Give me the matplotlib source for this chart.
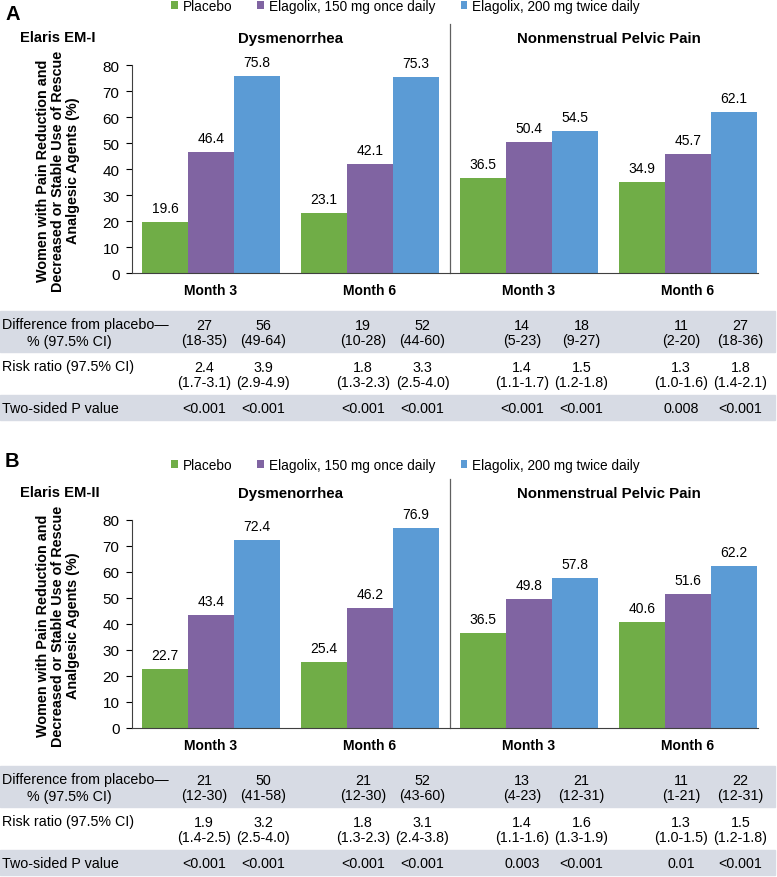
import matplotlib
matplotlib.use("Agg")
from matplotlib import pyplot as plt
from matplotlib.patches import Rectangle
from matplotlib import transforms

plt.rcParams['font.family'] = ['Liberation Sans', 'DejaVu Sans']

W, H = 777, 878

series_names = ['Placebo', 'Elagolix, 150 mg once daily', 'Elagolix, 200 mg twice daily']
colors = ['#70AD47', '#8064A2', '#5B9BD5']
groups = ['Month 3', 'Month 6', 'Month 3', 'Month 6']
sections = ['Dysmenorrhea', 'Nonmenstrual Pelvic Pain']

# panel A: Elaris EM-I
a_placebo = [19.6, 23.1, 36.5, 34.9]
a_e150 = [46.4, 42.1, 50.4, 45.7]
a_e200 = [75.8, 75.3, 54.5, 62.1]
a_diff150 = ['27\n(18-35)', '19\n(10-28)', '14\n(5-23)', '11\n(2-20)']
a_diff200 = ['56\n(49-64)', '52\n(44-60)', '18\n(9-27)', '27\n(18-36)']
a_rr150 = ['2.4\n(1.7-3.1)', '1.8\n(1.3-2.3)', '1.4\n(1.1-1.7)', '1.3\n(1.0-1.6)']
a_rr200 = ['3.9\n(2.9-4.9)', '3.3\n(2.5-4.0)', '1.5\n(1.2-1.8)', '1.8\n(1.4-2.1)']
a_p150 = ['<0.001', '<0.001', '<0.001', '0.008']
a_p200 = ['<0.001', '<0.001', '<0.001', '<0.001']

# panel B: Elaris EM-II
b_placebo = [22.7, 25.4, 36.5, 40.6]
b_e150 = [43.4, 46.2, 49.8, 51.6]
b_e200 = [72.4, 76.9, 57.8, 62.2]
b_diff150 = ['21\n(12-30)', '21\n(12-30)', '13\n(4-23)', '11\n(1-21)']
b_diff200 = ['50\n(41-58)', '52\n(43-60)', '21\n(12-31)', '22\n(12-31)']
b_rr150 = ['1.9\n(1.4-2.5)', '1.8\n(1.3-2.3)', '1.4\n(1.1-1.6)', '1.3\n(1.0-1.5)']
b_rr200 = ['3.2\n(2.5-4.0)', '3.1\n(2.4-3.8)', '1.6\n(1.3-1.9)', '1.5\n(1.2-1.8)']
b_p150 = ['<0.001', '<0.001', '0.003', '0.01']
b_p200 = ['<0.001', '<0.001', '<0.001', '<0.001']

ylabel = 'Women with Pain Reduction and\nDecreased or Stable Use of Rescue\nAnalgesic Agents (%)'

fig = plt.figure(figsize=(W / 100, H / 100), dpi=100)


def fy(py):
    return 1 - py / H


def fx(px):
    return px / W


def panel(letter, study, vals, table, off, letter_y, legend_y):
    axtop, axbot = 66 + off, 274 + off
    ax = fig.add_axes([fx(132), fy(axbot), fx(758) - fx(132), (axbot - axtop) / H])
    bw = 0.289
    xs = list(range(len(groups)))
    handles = []
    for k, (v, c) in enumerate(zip(vals, colors)):
        pos = [x + (k - 1) * bw for x in xs]
        b = ax.bar(pos, v, width=bw, color=c, linewidth=0)
        handles.append(b)
        for p, val in zip(pos, v):
            ax.annotate(f'{val:.1f}', (p, val), xytext=(0, 5), textcoords='offset points',
                        ha='center', va='bottom', fontsize=10)
    ax.set_xlim(-0.497, 3.44)
    ax.set_ylim(0, 80)
    ax.set_yticks(range(0, 81, 10))
    ax.tick_params(axis='y', labelsize=11, length=4, width=0.8, direction='out', pad=5)
    ax.set_xticks([])
    for s in ['top', 'right']:
        ax.spines[s].set_visible(False)
    ax.spines['left'].set_color('#404040')
    ax.spines['bottom'].set_color('#404040')
    # separator between the two sections
    ax.plot([1.5, 1.5], [0, 80 * (axbot - (25 + off)) / (axbot - axtop)], color='#606060',
            lw=0.9, clip_on=False)

    tr = transforms.blended_transform_factory(ax.transData, fig.transFigure)
    for x, g in zip(xs, groups):
        ax.text(x, fy(291 + off), g, transform=tr, ha='center', va='center',
                fontsize=10, fontweight='bold')
    for x, s in zip([0.5, 2.5], sections):
        ax.text(x, fy(39 + off), s, transform=tr, ha='center', va='center',
                fontsize=10.8, fontweight='bold')

    fig.text(fx(58), fy(171 + off), ylabel, rotation=90, ha='center', va='center',
             fontsize=10.4, fontweight='bold', linespacing=1.12)
    fig.text(fx(5), fy(letter_y), letter, ha='left', va='center', fontsize=14.5, fontweight='bold')
    fig.text(fx(20), fy(38 + off), study, ha='left', va='center', fontsize=10.6, fontweight='bold')

    fig.legend(handles, series_names, loc='center left', bbox_to_anchor=(fx(171), fy(legend_y)),
               frameon=False, ncol=3, fontsize=9.8, handlelength=0.5, handleheight=0.5,
               handletextpad=0.35, columnspacing=1.85, borderpad=0, borderaxespad=0)

    # table
    for y0, y1 in [(312, 353), (396, 421)]:
        fig.patches.append(Rectangle((0, fy(y1 + off)), fx(775), (y1 - y0) / H,
                                     transform=fig.transFigure, color='#D7DBE4', zorder=-5))
    fs = 10.3
    fig.text(fx(2), fy(325 + off), 'Difference from placebo\u2014', ha='left', va='center', fontsize=fs)
    fig.text(fx(27), fy(342 + off), '% (97.5% CI)', ha='left', va='center', fontsize=fs)
    fig.text(fx(2), fy(367 + off), 'Risk ratio (97.5% CI)', ha='left', va='center', fontsize=fs)
    fig.text(fx(2), fy(409 + off), 'Two-sided P value', ha='left', va='center', fontsize=fs)
    rows = [(333.5, table[0], table[1]), (375.5, table[2], table[3]), (409, table[4], table[5])]
    for ry, c150, c200 in rows:
        for x, t1, t2 in zip(xs, c150, c200):
            ax.text(x - 0.045, fy(ry + off), t1, transform=tr, ha='center', va='center',
                    fontsize=fs, linespacing=1.15)
            ax.text(x + 0.33, fy(ry + off), t2, transform=tr, ha='center', va='center',
                    fontsize=fs, linespacing=1.15)


panel('A', 'Elaris EM-I', [a_placebo, a_e150, a_e200],
      [a_diff150, a_diff200, a_rr150, a_rr200, a_p150, a_p200], 0, 14, 7)
panel('B', 'Elaris EM-II', [b_placebo, b_e150, b_e200],
      [b_diff150, b_diff200, b_rr150, b_rr200, b_p150, b_p200], 455, 462, 466)

fig.savefig('out.png', dpi=100)
